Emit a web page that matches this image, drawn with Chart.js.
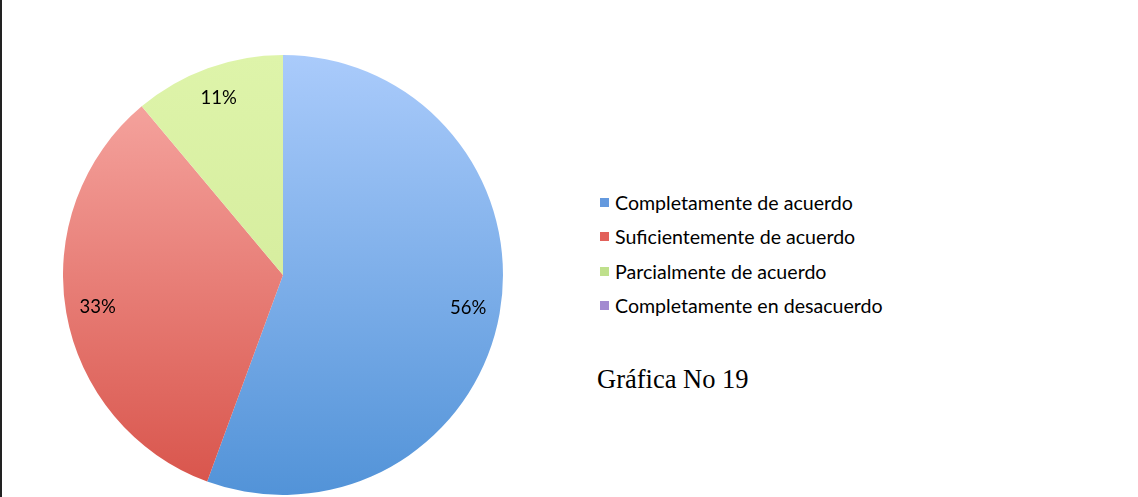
<!DOCTYPE html>
<html>
<head>
<meta charset="utf-8">
<script src="https://cdn.jsdelivr.net/npm/chart.js@4/dist/chart.umd.min.js"></script>
<style>
  html, body { margin:0; padding:0; background:#fff; }
  body { width:1138px; height:497px; position:relative; overflow:hidden; }
  #frameL { position:absolute; left:0; top:0; width:2px; height:497px; background:#222; }
  #wrap { position:absolute; left:63px; top:55px; width:440px; height:440px; }
  #legend { position:absolute; left:600px; top:191px; font-family:Lato, "Open Sans", sans-serif; font-size:19.6px; color:#000; }
  .row { position:absolute; left:0; white-space:nowrap; height:24px; line-height:24px; }
  .sw { position:absolute; left:0; top:7px; width:9px; height:9px; }
  .tx { position:absolute; left:15px; top:0; }
  #caption { position:absolute; left:597px; top:364px; font-family:"Liberation Serif", "Times New Roman", serif; font-size:26.5px; color:#000; white-space:nowrap; }
</style>
</head>
<body>
<div id="frameL"></div>
<div id="wrap"><canvas id="c"></canvas></div>
<div id="legend"></div>
<div id="caption">Gráfica No 19</div>
<script>
const categories = ["Completamente de acuerdo", "Suficientemente de acuerdo", "Parcialmente de acuerdo", "Completamente en desacuerdo"];
const values = [55.6, 33.3, 11.1, 0];
const valueLabels = ["56%", "33%", "11%", ""];
const legendColors = ["#6499de", "#e2615b", "#bfe08c", "#a38bd0"];
const gradTop = ["#aacbfb", "#f8aca7", "#def4aa", "#b9a3e0"];
const gradBottom = ["#5293d8", "#d8534a", "#cfe794", "#8f73c0"];

// legend (HTML, built from data arrays)
const leg = document.getElementById('legend');
categories.forEach((name, i) => {
  const r = document.createElement('div');
  r.className = 'row';
  r.style.top = (i * 34.3) + 'px';
  const s = document.createElement('div'); s.className = 'sw'; s.style.background = legendColors[i];
  const t = document.createElement('div'); t.className = 'tx'; t.textContent = name;
  r.appendChild(s); r.appendChild(t); leg.appendChild(r);
});

const labelPlugin = {
  id: 'sliceLabels',
  afterDatasetsDraw(chart) {
    const ctx = chart.ctx;
    const meta = chart.getDatasetMeta(0);
    ctx.save();
    ctx.font = '18.5px Lato, "Open Sans", sans-serif';
    ctx.fillStyle = '#000';
    ctx.textAlign = 'center';
    ctx.textBaseline = 'middle';
    meta.data.forEach((arc, i) => {
      if (!valueLabels[i]) return;
      const p = arc.getProps(['x','y','startAngle','endAngle','outerRadius']);
      const mid = (p.startAngle + p.endAngle) / 2;
      const r = p.outerRadius * 0.855;
      ctx.fillText(valueLabels[i], p.x + Math.cos(mid) * r, p.y + Math.sin(mid) * r);
    });
    ctx.restore();
  }
};

new Chart(document.getElementById('c'), {
  type: 'pie',
  data: {
    labels: categories,
    datasets: [{
      data: values,
      borderWidth: 0,
      backgroundColor: (context) => {
        const chart = context.chart;
        const area = chart.chartArea;
        if (!area) return legendColors[context.dataIndex];
        const g = chart.ctx.createLinearGradient(0, area.top, 0, area.bottom);
        g.addColorStop(0, gradTop[context.dataIndex]);
        g.addColorStop(1, gradBottom[context.dataIndex]);
        return g;
      }
    }]
  },
  options: {
    responsive: true,
    maintainAspectRatio: false,
    animation: false,
    layout: { padding: 0 },
    plugins: { legend: { display: false }, tooltip: { enabled: false } }
  },
  plugins: [labelPlugin]
});
</script>
</body>
</html>
